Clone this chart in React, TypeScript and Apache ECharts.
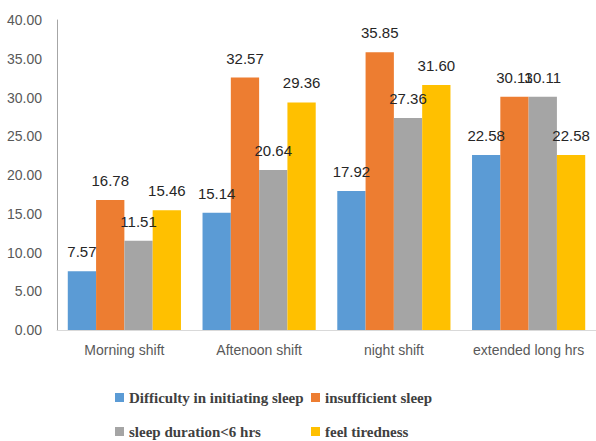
import React, { useEffect, useRef } from "react";
import * as echarts from "echarts";

const categories = ["Morning shift", "Aftenoon shift", "night shift", "extended long hrs"];
const seriesNames = [
  "Difficulty in initiating sleep",
  "insufficient sleep",
  "sleep duration<6 hrs",
  "feel tiredness",
];
const difficultyInitiating = [7.57, 15.14, 17.92, 22.58];
const insufficientSleep = [16.78, 32.57, 35.85, 30.11];
const shortDuration = [11.51, 20.64, 27.36, 30.11];
const feelTiredness = [15.46, 29.36, 31.6, 22.58];
const colors = ["#5B9BD5", "#ED7D31", "#A5A5A5", "#FFC000"];

const seriesData = [difficultyInitiating, insufficientSleep, shortDuration, feelTiredness];

// legend laid out as a 2x2 grid: [left, top] of each entry
const legendSlots = [
  [115, 390],
  [311, 390],
  [115, 424],
  [311, 424],
];

export default function App() {
  const ref = useRef<HTMLDivElement>(null);

  useEffect(() => {
    if (!ref.current) return;
    const chart = echarts.init(ref.current, undefined, { renderer: "svg" });
    const legendText = {
      fontFamily: "Liberation Serif",
      fontWeight: "bold" as const,
      fontSize: 15,
      color: "#404040",
    };
    chart.setOption({
      animation: false,
      backgroundColor: "#ffffff",
      grid: { left: 57, right: 0, top: 20, bottom: 111, containLabel: false },
      legend: seriesNames.map((name, i) => ({
        data: [name],
        left: legendSlots[i][0],
        top: legendSlots[i][1],
        padding: 0,
        itemWidth: 9,
        itemHeight: 9,
        icon: "rect",
        textStyle: legendText,
      })),
      xAxis: {
        type: "category",
        data: categories,
        axisLine: { show: true, lineStyle: { color: "#d9d9d9", width: 1 } },
        axisTick: { show: false },
        axisLabel: {
          interval: 0,
          color: "#595959",
          fontFamily: "Liberation Sans",
          fontSize: 14,
          margin: 13,
        },
      },
      yAxis: {
        type: "value",
        min: 0,
        max: 40,
        interval: 5,
        axisLine: { show: true, lineStyle: { color: "#a6a6a6", width: 1 } },
        axisTick: { show: false },
        splitLine: { show: false },
        axisLabel: {
          color: "#595959",
          fontFamily: "Liberation Sans",
          fontSize: 14,
          margin: 15,
          formatter: (v: number) => v.toFixed(2),
        },
      },
      series: seriesNames.map((name, i) => ({
        name,
        type: "bar",
        data: seriesData[i],
        itemStyle: { color: colors[i] },
        barGap: "0%",
        barCategoryGap: "16%",
        label: {
          show: true,
          position: "top",
          distance: 12,
          color: "#262626",
          fontFamily: "Liberation Sans",
          fontSize: 15,
          formatter: (p: any) => Number(p.value).toFixed(2),
        },
      })),
    });
    return () => chart.dispose();
  }, []);

  return (
    <div
      ref={ref}
      style={{ position: "fixed", left: 0, top: 0, width: 596, height: 441 }}
    />
  );
}
